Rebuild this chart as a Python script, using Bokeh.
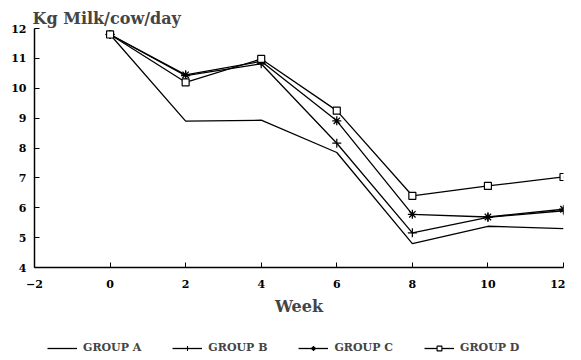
from bokeh.plotting import figure
from bokeh.models import Range1d, Legend, LegendItem, FixedTicker
from bokeh.layouts import column
from bokeh.embed import file_html
from bokeh.resources import INLINE

weeks = [0, 2, 4, 6, 8, 10, 12]
group_a = [11.8, 8.9, 8.93, 7.85, 4.8, 5.38, 5.3]
group_b = [11.8, 10.42, 10.82, 8.16, 5.16, 5.68, 5.9]
group_c = [11.8, 10.45, 10.9, 8.91, 5.78, 5.69, 5.95]
group_d = [11.8, 10.2, 10.98, 9.25, 6.4, 6.73, 7.03]
x_ticks = [-2, 0, 2, 4, 6, 8, 10, 12]
y_ticks = [4, 5, 6, 7, 8, 9, 10, 11, 12]
group_names = ["GROUP A", "GROUP B", "GROUP C", "GROUP D"]

FONT = "DejaVu Serif"

p = figure(output_backend="svg", toolbar_location=None,
           frame_width=529, frame_height=239,
           x_range=Range1d(-2, 12), y_range=Range1d(4, 12),
           min_border_left=34, min_border_right=2, min_border_top=28, min_border_bottom=0,
           title="Kg Milk/cow/day")
p.title.text_font = FONT
p.title.text_font_size = "16px"
p.title.text_font_style = "bold"
p.title.align = "left"
p.title.offset = -2
p.title.standoff = 2
p.outline_line_color = None
p.grid.visible = False
p.background_fill_color = "white"
p.border_fill_color = "white"

for ax in (p.xaxis[0], p.yaxis[0]):
    ax.axis_line_color = "black"
    ax.axis_line_width = 1.5
    ax.major_tick_in = 5
    ax.major_tick_out = 0
    ax.minor_tick_line_color = None
    ax.major_tick_line_color = "black"
    ax.major_label_text_font = FONT
    ax.major_label_text_font_size = "11px"
    ax.major_label_text_font_style = "bold"
    ax.major_label_text_color = "black"

p.xaxis.ticker = FixedTicker(ticks=x_ticks)
p.yaxis.ticker = FixedTicker(ticks=y_ticks)
p.xaxis.major_label_standoff = 12
p.yaxis.major_label_standoff = 8
p.xaxis.axis_label = "Week"
p.xaxis.axis_label_text_font = FONT
p.xaxis.axis_label_text_font_size = "16px"
p.xaxis.axis_label_text_font_style = "bold"
p.xaxis.axis_label_standoff = 6

lw = 1.3
p.line(weeks, group_a, line_color="black", line_width=lw)
p.line(weeks, group_b, line_color="black", line_width=lw)
p.scatter(weeks, group_b, marker="cross", size=9, line_color="black", line_width=1.2)
p.line(weeks, group_c, line_color="black", line_width=lw)
p.scatter(weeks, group_c, marker="asterisk", size=9, line_color="black", line_width=1.3)
p.line(weeks, group_d, line_color="black", line_width=lw)
p.scatter(weeks, group_d, marker="square", size=7, line_color="black",
          fill_color="white", line_width=1.2)

# legend strip below the chart (its renderers hold the same data, kept out of view)
q = figure(output_backend="svg", toolbar_location=None,
           frame_width=565, frame_height=36,
           x_range=Range1d(0, 1), y_range=Range1d(0, 1),
           x_axis_location=None, y_axis_location=None,
           min_border_left=0, min_border_right=0, min_border_top=0, min_border_bottom=0)
q.outline_line_color = None
q.grid.visible = False
q.border_fill_color = "white"

la = q.line(weeks, group_a, line_color="black", line_width=lw)
lb = q.line(weeks, group_b, line_color="black", line_width=lw)
lbm = q.scatter(weeks, group_b, marker="cross", size=7, line_color="black", line_width=1.1)
lc = q.line(weeks, group_c, line_color="black", line_width=lw)
lcm = q.scatter(weeks, group_c, marker="asterisk", size=7, line_color="black", line_width=1.1)
ld = q.line(weeks, group_d, line_color="black", line_width=lw)
ldm = q.scatter(weeks, group_d, marker="square", size=6, line_color="black",
                fill_color="white", line_width=1.1)

legend = Legend(items=[
    LegendItem(label=group_names[0], renderers=[la]),
    LegendItem(label=group_names[1], renderers=[lb, lbm]),
    LegendItem(label=group_names[2], renderers=[lc, lcm]),
    LegendItem(label=group_names[3], renderers=[ld, ldm]),
], orientation="horizontal", location=(47, 0))
legend.border_line_color = None
legend.background_fill_color = "white"
legend.background_fill_alpha = 1
legend.label_text_font = FONT
legend.label_text_font_size = "11px"
legend.label_text_font_style = "bold"
legend.glyph_width = 30
legend.glyph_height = 12
legend.spacing = 31
legend.margin = 0
legend.padding = 2
legend.label_standoff = 6
legend.label_height = 12
q.add_layout(legend, "center")

layout = column(p, q, spacing=0)
open("out.html", "w").write(file_html(layout, INLINE))
